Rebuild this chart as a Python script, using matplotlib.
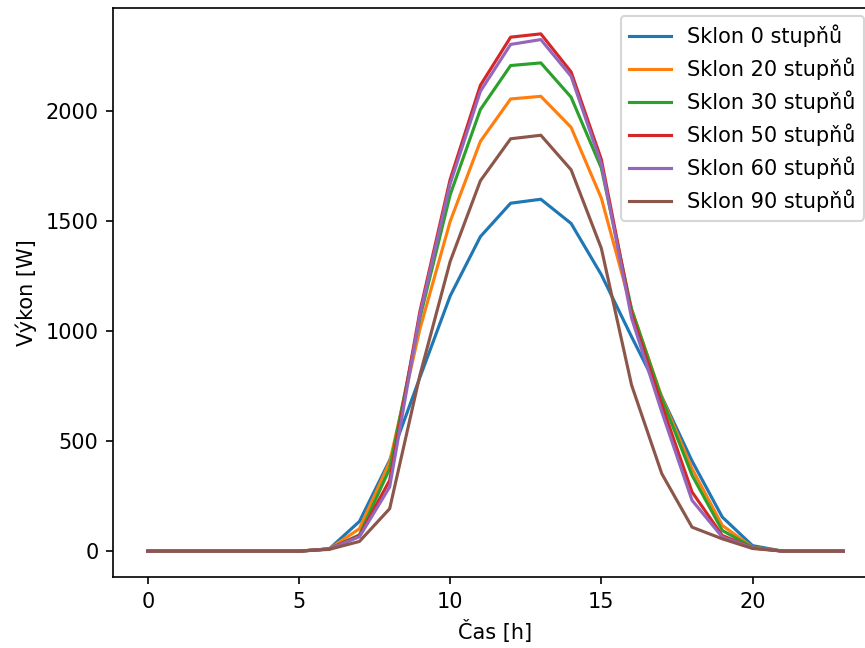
import numpy as np
import matplotlib.pyplot as plt

hours = list(range(24))

# power output [W] for each tilt angle
p0  = [0, 0, 0, 0, 0, 0, 10, 135, 413, 790, 1160, 1430, 1582, 1600, 1490, 1257, 975, 702, 410, 155, 25, 0, 0, 0]
p20 = [0, 0, 0, 0, 0, 0, 10, 102, 405, 1010, 1499, 1863, 2056, 2068, 1927, 1605, 1100, 700, 375, 117, 18, 0, 0, 0]
p30 = [0, 0, 0, 0, 0, 0, 10, 74, 375, 1060, 1620, 2008, 2208, 2220, 2064, 1742, 1100, 694, 345, 94, 18, 0, 0, 0]
p50 = [0, 0, 0, 0, 0, 0, 10, 70, 322, 1090, 1690, 2118, 2337, 2352, 2179, 1781, 1080, 665, 269, 71, 15, 0, 0, 0]
p60 = [0, 0, 0, 0, 0, 0, 10, 65, 292, 1075, 1670, 2091, 2304, 2326, 2159, 1760, 1060, 633, 231, 64, 15, 0, 0, 0]
p90 = [0, 0, 0, 0, 0, 0, 8, 44, 193, 800, 1317, 1684, 1875, 1891, 1734, 1377, 755, 352, 109, 56, 12, 0, 0, 0]

series = [p0, p20, p30, p50, p60, p90]
labels = ['Sklon 0 stupňů', 'Sklon 20 stupňů', 'Sklon 30 stupňů',
          'Sklon 50 stupňů', 'Sklon 60 stupňů', 'Sklon 90 stupňů']

dpi = 150
fig = plt.figure(figsize=(865 / dpi, 648 / dpi), dpi=dpi)
# the original picture is cropped on the right, so the axes run past the edge
ax = fig.add_axes([113 / 865, 71 / 648, 765 / 865, 569 / 648])

for vals, lab in zip(series, labels):
    ax.plot(hours, vals, label=lab)

ax.set_xlabel('Čas [h]')
ax.set_ylabel('Výkon [W]')
ax.legend(loc='upper right', bbox_to_anchor=(864 / 865, 1 - 16 / 648),
          bbox_transform=fig.transFigure, borderaxespad=0)

fig.savefig('out.png', dpi=dpi)
